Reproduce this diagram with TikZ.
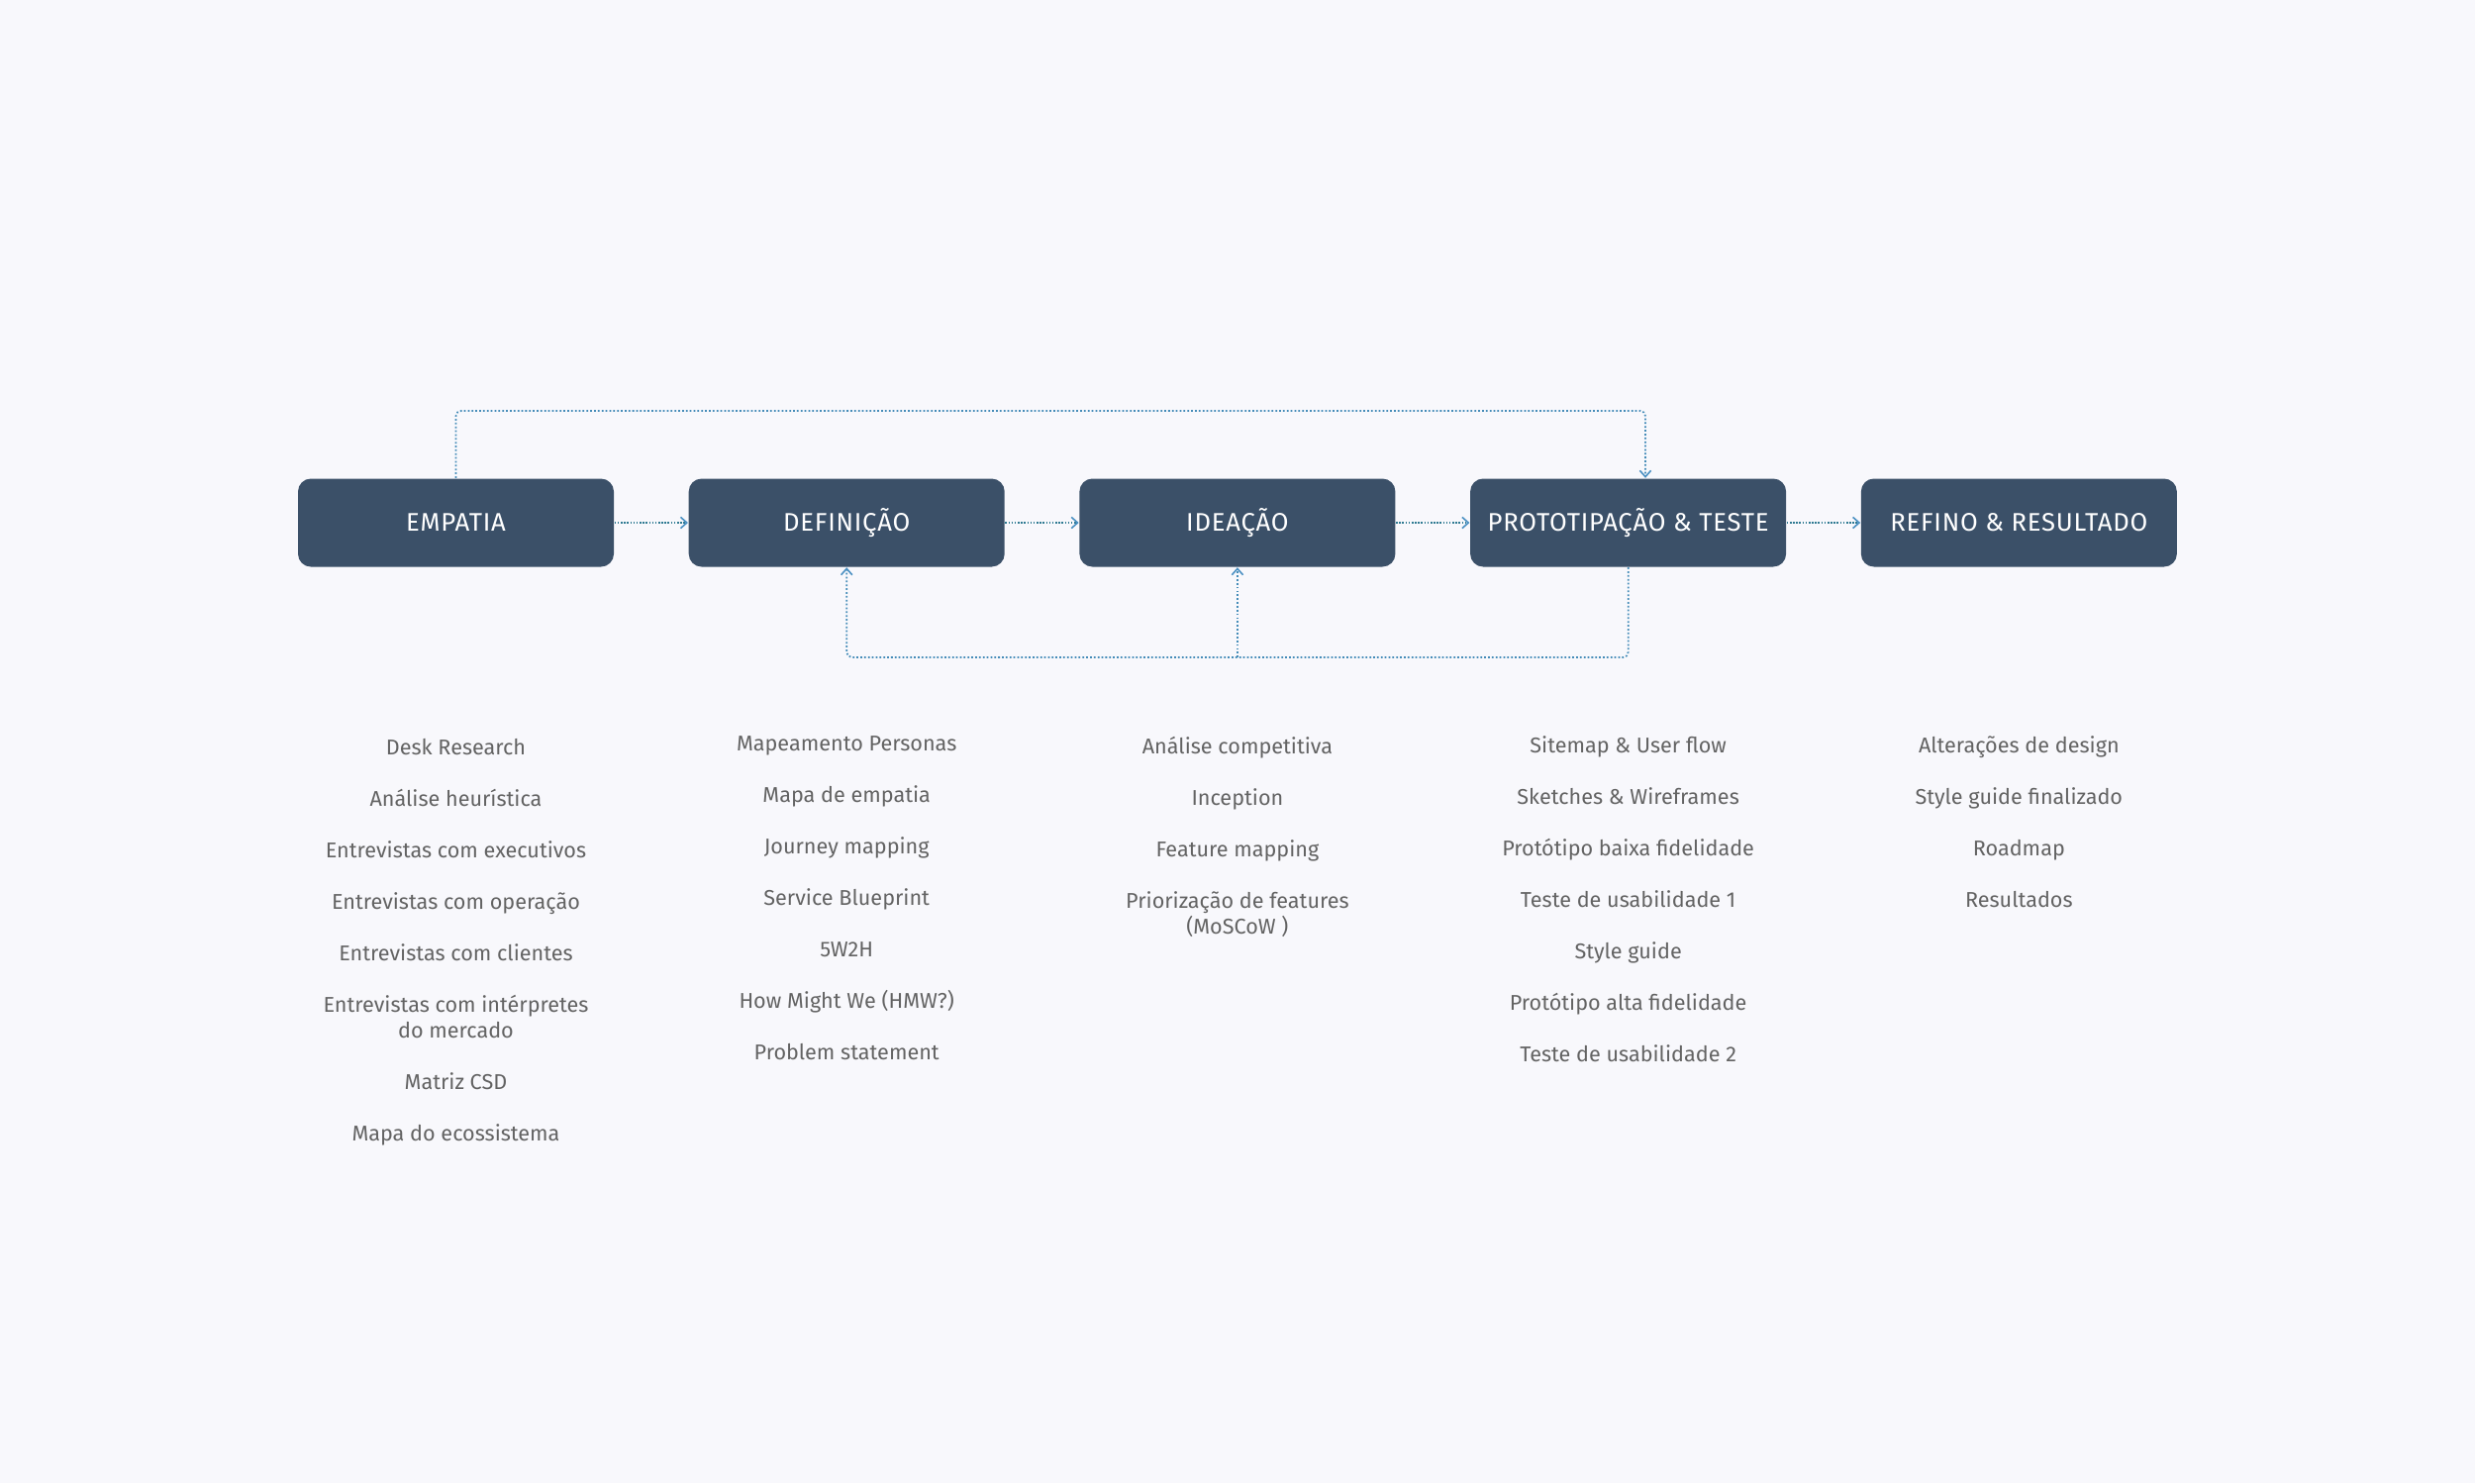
\documentclass[tikz,border=0pt]{standalone}
\usepackage{fontspec}
\setmainfont{Fira Sans}
\newfontfamily\stagefont[LetterSpace=3]{Fira Sans}
\usetikzlibrary{positioning, arrows.meta}
\definecolor{bgcolor}{HTML}{F8F8FC}
\definecolor{stageblue}{HTML}{3B5068}
\definecolor{itemgray}{HTML}{636363}
\definecolor{linkteal}{HTML}{2F7A92}
\definecolor{tipblue}{HTML}{4A90C2}
\tikzset{
    stagebox/.style={fill=stageblue, rounded corners=0.13cm, minimum width=3.19cm, minimum height=0.89cm, inner sep=0pt, text=white, font=\stagefont\fontsize{7.3}{8}\selectfont},
    itemlist/.style={align=center, text=itemgray, inner sep=0pt, font=\fontsize{6.15}{7.4}\selectfont},
    link/.style={draw=linkteal, line width=0.8pt, dash pattern=on 0.45pt off 0.45pt, ->},
    loopline/.style={draw=tipblue!80!linkteal, line width=0.5pt, dash pattern=on 0.5pt off 0.6pt, rounded corners=1.5pt}
}

\begin{document}
\begin{tikzpicture}[>={Straight Barb[length=1.8pt, width=3.2pt, line width=0.45pt, color=tipblue]}]
    \fill[bgcolor] (0,0) rectangle (25,-14.98);

    % stages
    \node[stagebox] (empatia) at (4.605,-5.28) {EMPATIA};
    \node[stagebox, right=0.743cm of empatia] (definicao) {DEFINIÇÃO};
    \node[stagebox, right=0.743cm of definicao] (ideacao) {IDEAÇÃO};
    \node[stagebox, right=0.743cm of ideacao] (prototipo) {PROTOTIPAÇÃO \& TESTE};
    \node[stagebox, right=0.743cm of prototipo] (refino) {REFINO \& RESULTADO};

    \draw[link] (empatia) -- (definicao);
    \draw[link] (definicao) -- (ideacao);
    \draw[link] (ideacao) -- (prototipo);
    \draw[link] (prototipo) -- (refino);

    % loops
    \coordinate (topturn) at (16.62,-4.15);
    \coordinate (bottomrun) at (0,-6.64);
    \draw[loopline, ->] (empatia.north) |- (topturn) -- (topturn |- prototipo.north);
    \draw[loopline, ->] (prototipo.south) -- (prototipo.south |- bottomrun) -- (definicao.south |- bottomrun) -- (definicao.south);
    \draw[loopline, ->] (ideacao.south |- bottomrun) -- (ideacao.south);

    % activities
    \node[itemlist, below=1.72cm of empatia] (empatialist) {Desk Research\\[7.4pt] Análise heurística\\[7.4pt] Entrevistas com executivos\\[7.4pt] Entrevistas com operação\\[7.4pt] Entrevistas com clientes\\[7.4pt] Entrevistas com intérpretes\\ do mercado\\[7.4pt] Matriz CSD\\[7.4pt] Mapa do ecossistema};
    \node[itemlist, below=1.7cm of definicao] (definicaolist) {Mapeamento Personas\\[7.4pt] Mapa de empatia\\[7.4pt] Journey mapping\\[7.4pt] Service Blueprint\\[7.4pt] 5W2H\\[7.4pt] How Might We (HMW?)\\[7.4pt] Problem statement};
    \node[itemlist, below=1.7cm of ideacao] (ideacaolist) {Análise competitiva\\[7.4pt] Inception\\[7.4pt] Feature mapping\\[7.4pt] Priorização de features\\ (MoSCoW )};
    \node[itemlist, below=1.7cm of prototipo] (prototipolist) {Sitemap \& User flow\\[7.4pt] Sketches \& Wireframes\\[7.4pt] Protótipo baixa fidelidade\\[7.4pt] Teste de usabilidade 1\\[7.4pt] Style guide\\[7.4pt] Protótipo alta fidelidade\\[7.4pt] Teste de usabilidade 2};
    \node[itemlist, below=1.7cm of refino] (refinolist) {Alterações de design\\[7.4pt] Style guide finalizado\\[7.4pt] Roadmap\\[7.4pt] Resultados};
\end{tikzpicture}
\end{document}
